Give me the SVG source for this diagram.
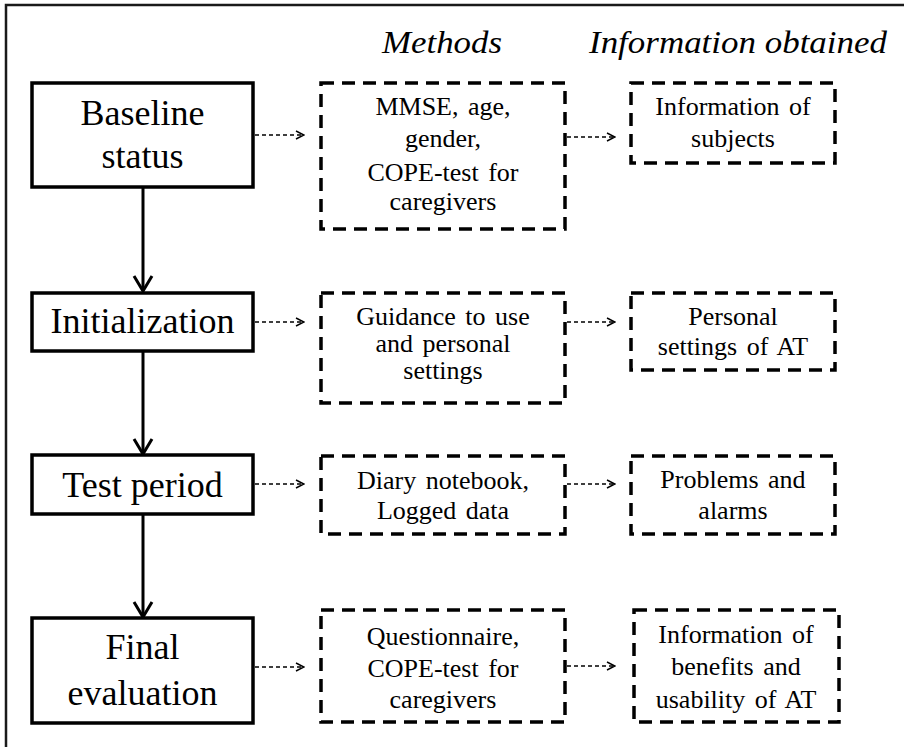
<svg xmlns="http://www.w3.org/2000/svg" width="904" height="747" viewBox="0 0 904 747">
<defs>
<style>
.frame{fill:none;stroke:#1a1a1a;stroke-width:2.5}
.solid{fill:#fff;stroke:#000;stroke-width:3.5}
.dash{fill:#fff;stroke:#000;stroke-width:3.5;stroke-dasharray:13 8}
text{font-family:Tinos,'Liberation Serif','Times New Roman',Times,'Nimbus Roman','Nimbus Roman No9 L','DejaVu Serif','Noto Serif',FreeSerif,serif;fill:#000}
.big{font-size:36px;text-anchor:middle}
.txt{font-size:26px;text-anchor:middle;word-spacing:3px}
.hdr{font-size:32px;font-style:italic}
.flow{fill:none;stroke:#000;stroke-width:3}
.dot{fill:none;stroke:#000;stroke-width:1.5;stroke-dasharray:4 3}
</style>
<marker id="chev" viewBox="0 0 10 10" refX="9" refY="5" markerWidth="10" markerHeight="10" markerUnits="userSpaceOnUse" orient="auto">
<path d="M1,1 L9,5 L1,9" fill="none" stroke="#000" stroke-width="1.5"/>
</marker>
</defs>
<rect width="904" height="747" fill="#fff"/>
<rect class="frame" x="6" y="5" width="910" height="760"/>
<text class="hdr" x="382" y="53" textLength="120" lengthAdjust="spacingAndGlyphs">Methods</text>
<text class="hdr" x="589" y="53" textLength="298" lengthAdjust="spacingAndGlyphs">Information obtained</text>

<g id="connectors">
<line class="flow" x1="143" y1="187" x2="143" y2="290"/>
<polyline class="flow" points="134,276 143,291 152,276"/>
<line class="flow" x1="143" y1="351" x2="143" y2="453"/>
<polyline class="flow" points="134,439 143,454 152,439"/>
<line class="flow" x1="143" y1="514" x2="143" y2="616"/>
<polyline class="flow" points="134,602 143,617 152,602"/>
<line class="dot" x1="255" y1="135" x2="304" y2="135" marker-end="url(#chev)"/>
<line class="dot" x1="255" y1="322" x2="304" y2="322" marker-end="url(#chev)"/>
<line class="dot" x1="255" y1="484" x2="304" y2="484" marker-end="url(#chev)"/>
<line class="dot" x1="255" y1="667" x2="304" y2="667" marker-end="url(#chev)"/>
<line class="dot" x1="567" y1="137" x2="615" y2="137" marker-end="url(#chev)"/>
<line class="dot" x1="567" y1="322" x2="615" y2="322" marker-end="url(#chev)"/>
<line class="dot" x1="567" y1="484" x2="615" y2="484" marker-end="url(#chev)"/>
<line class="dot" x1="567" y1="666" x2="615" y2="666" marker-end="url(#chev)"/>
</g>

<g id="baseline">
<rect class="solid" x="32" y="83" width="221" height="104"/>
<text class="big" x="142.5" y="125">Baseline</text>
<text class="big" x="142.5" y="168">status</text>
</g>
<g id="initialization">
<rect class="solid" x="32" y="293" width="221" height="58"/>
<text class="big" x="142.5" y="333">Initialization</text>
</g>
<g id="testperiod">
<rect class="solid" x="32" y="455" width="221" height="59"/>
<text class="big" x="142.5" y="497">Test period</text>
</g>
<g id="final">
<rect class="solid" x="32" y="618" width="221" height="105"/>
<text class="big" x="142.5" y="659">Final</text>
<text class="big" x="142.5" y="705">evaluation</text>
</g>

<g id="m-baseline">
<rect class="dash" x="321" y="83" width="244" height="146"/>
<text class="txt" x="443" y="115">MMSE, age,</text>
<text class="txt" x="443" y="147">gender,</text>
<text class="txt" x="443" y="181">COPE-test for</text>
<text class="txt" x="443" y="210">caregivers</text>
</g>
<g id="m-init">
<rect class="dash" x="321" y="293" width="244" height="110"/>
<text class="txt" x="443" y="325">Guidance to use</text>
<text class="txt" x="443" y="352">and personal</text>
<text class="txt" x="443" y="379">settings</text>
</g>
<g id="m-test">
<rect class="dash" x="321" y="456" width="244" height="78"/>
<text class="txt" x="443" y="489">Diary notebook,</text>
<text class="txt" x="443" y="519">Logged data</text>
</g>
<g id="m-final">
<rect class="dash" x="321" y="610" width="244" height="112"/>
<text class="txt" x="443" y="645">Questionnaire,</text>
<text class="txt" x="443" y="677">COPE-test for</text>
<text class="txt" x="443" y="708">caregivers</text>
</g>

<g id="i-baseline">
<rect class="dash" x="631" y="83" width="204" height="80"/>
<text class="txt" x="733" y="115">Information of</text>
<text class="txt" x="733" y="147">subjects</text>
</g>
<g id="i-init">
<rect class="dash" x="631" y="293" width="204" height="77"/>
<text class="txt" x="733" y="325">Personal</text>
<text class="txt" x="733" y="355">settings of AT</text>
</g>
<g id="i-test">
<rect class="dash" x="631" y="456" width="204" height="78"/>
<text class="txt" x="733" y="488">Problems and</text>
<text class="txt" x="733" y="519">alarms</text>
</g>
<g id="i-final">
<rect class="dash" x="634" y="610" width="205" height="112"/>
<text class="txt" x="736" y="643">Information of</text>
<text class="txt" x="736" y="675">benefits and</text>
<text class="txt" x="736" y="708">usability of AT</text>
</g>
</svg>
